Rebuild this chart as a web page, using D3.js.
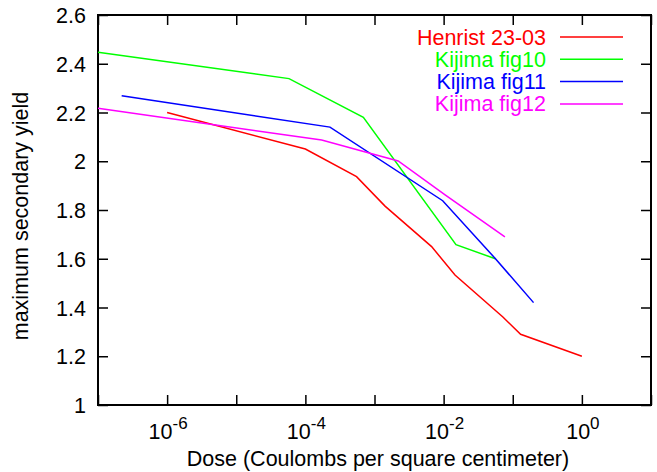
<!DOCTYPE html>
<html>
<head>
<meta charset="utf-8">
<script src="https://cdn.jsdelivr.net/npm/d3@7"></script>
<style>
  body { margin: 0; background: #fff; }
  text { font-family: "Liberation Sans", Arial, Helvetica, sans-serif; }
</style>
</head>
<body>
<script>
var width = 657,
    height = 472;

// data (dose in C/cm^2, yield)
var henristDose  = [1e-6, 1e-4, 5.5e-4, 1.42e-3, 6.7e-3, 0.0146, 0.072, 0.13, 1.0];
var henristYield = [2.20, 2.05, 1.937, 1.816, 1.65, 1.533, 1.361, 1.29, 1.20];

var fig10Dose  = [1e-7, 5.8e-5, 6.9e-4, 0.0151, 0.056];
var fig10Yield = [2.447, 2.339, 2.18, 1.658, 1.60];

var fig11Dose  = [2.2e-7, 2.27e-4, 9.7e-3, 0.055, 0.20];
var fig11Yield = [2.269, 2.14, 1.838, 1.603, 1.42];

var fig12Dose  = [1e-7, 1.72e-4, 2.2e-3, 0.0105, 0.077];
var fig12Yield = [2.217, 2.087, 2.001, 1.862, 1.69];

var seriesNames  = ["Henrist 23-03", "Kijima fig10", "Kijima fig11", "Kijima fig12"];
var seriesColors = ["#ff0000", "#00ff00", "#0000ff", "#ff00ff"];

var xDecades = [1e-7, 1e-6, 1e-5, 1e-4, 1e-3, 1e-2, 1e-1, 1, 10];
var xLabelTicks = [1e-6, 1e-4, 1e-2, 1];
var yTicks = [1, 1.2, 1.4, 1.6, 1.8, 2, 2.2, 2.4, 2.6];

var series = [
  {x: henristDose, y: henristYield},
  {x: fig10Dose, y: fig10Yield},
  {x: fig11Dose, y: fig11Yield},
  {x: fig12Dose, y: fig12Yield}
];

var plotL = 98, plotR = 651, plotT = 15, plotB = 405;
var fs = 21.5;

var x = d3.scaleLog().domain([1e-7, 10]).range([plotL, plotR]);
var y = d3.scaleLinear().domain([1, 2.6]).range([plotB, plotT]);

var svg = d3.select("body").append("svg")
    .attr("width", width)
    .attr("height", height);

// inward ticks on all four sides
svg.append("g")
    .attr("transform", "translate(0," + plotB + ")")
    .call(d3.axisBottom(x).tickValues(xDecades).tickSize(-10).tickFormat(""));
svg.append("g")
    .attr("transform", "translate(0," + plotT + ")")
    .call(d3.axisTop(x).tickValues(xDecades).tickSize(-10).tickFormat(""));
svg.append("g")
    .attr("transform", "translate(" + plotL + ",0)")
    .call(d3.axisLeft(y).tickValues(yTicks).tickSize(-10).tickFormat(""));
svg.append("g")
    .attr("transform", "translate(" + plotR + ",0)")
    .call(d3.axisRight(y).tickValues(yTicks).tickSize(-10).tickFormat(""));

svg.selectAll(".domain").remove();
svg.selectAll(".tick line").attr("stroke", "#000").attr("stroke-width", 1.5);

svg.append("rect")
    .attr("x", plotL).attr("y", plotT)
    .attr("width", plotR - plotL).attr("height", plotB - plotT)
    .attr("fill", "none").attr("stroke", "#000").attr("stroke-width", 2);

// y tick labels
svg.selectAll(".ylab")
  .data(yTicks)
  .enter().append("text")
    .attr("x", 86)
    .attr("y", function(d) { return y(d) + 8; })
    .attr("text-anchor", "end")
    .attr("font-size", fs)
    .text(function(d) { return d3.format("~g")(d); });

// x tick labels 10^n
var xl = svg.selectAll(".xlab")
  .data(xLabelTicks)
  .enter().append("text")
    .attr("x", function(d) { return x(d) + 1; })
    .attr("y", 439)
    .attr("text-anchor", "middle")
    .attr("font-size", fs);
xl.append("tspan").text("10");
xl.append("tspan")
    .attr("dy", -10)
    .attr("font-size", 17)
    .text(function(d) { return Math.round(Math.log10(d)); });

// axis titles
svg.append("text")
    .attr("x", 378)
    .attr("y", 466)
    .attr("text-anchor", "middle")
    .attr("font-size", fs)
    .text("Dose (Coulombs per square centimeter)");

svg.append("text")
    .attr("transform", "translate(28,216) rotate(-90)")
    .attr("text-anchor", "middle")
    .attr("font-size", fs)
    .text("maximum secondary yield");

// data lines
var line = d3.line()
    .x(function(d) { return x(d[0]); })
    .y(function(d) { return y(d[1]); });

svg.selectAll(".series")
  .data(series)
  .enter().append("path")
    .attr("d", function(s) { return line(d3.zip(s.x, s.y)); })
    .attr("fill", "none")
    .attr("stroke", function(s, i) { return seriesColors[i]; })
    .attr("stroke-width", 1.5);

// legend
var legend = svg.selectAll(".legend")
  .data(seriesNames)
  .enter().append("g")
    .attr("transform", function(d, i) { return "translate(0," + (37 + i * 22.3) + ")"; });

legend.append("text")
    .attr("x", 546)
    .attr("y", 7.5)
    .attr("text-anchor", "end")
    .attr("font-size", fs)
    .attr("fill", function(d, i) { return seriesColors[i]; })
    .text(function(d) { return d; });

legend.append("line")
    .attr("x1", 560).attr("x2", 623)
    .attr("stroke", function(d, i) { return seriesColors[i]; })
    .attr("stroke-width", 1.5);
</script>
</body>
</html>
